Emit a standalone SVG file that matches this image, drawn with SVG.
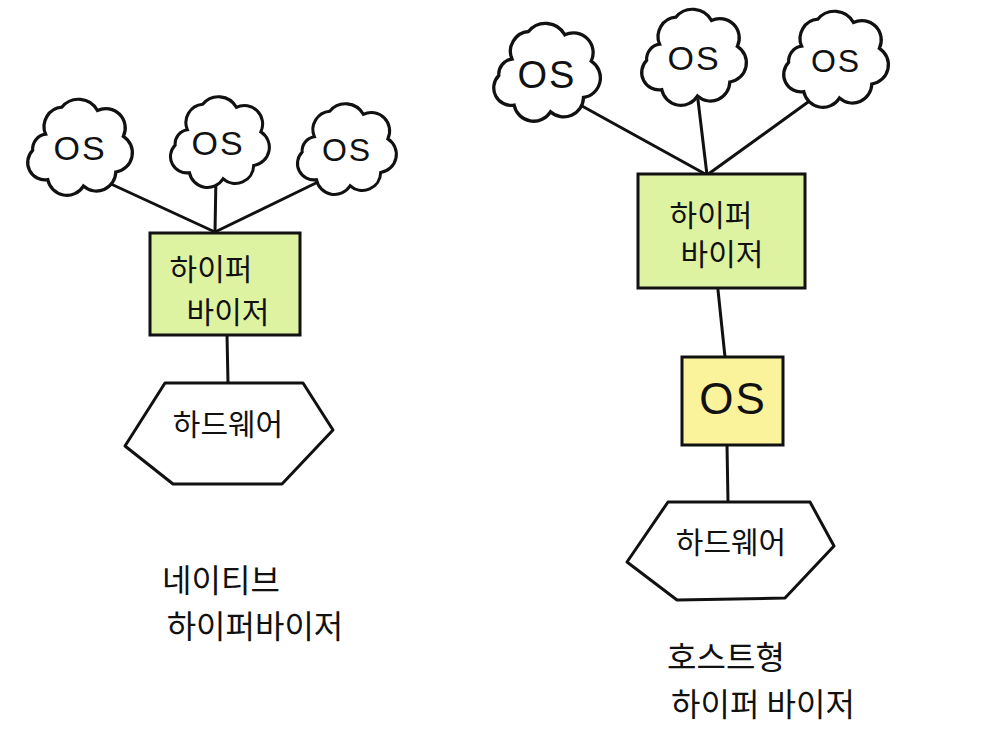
<svg xmlns="http://www.w3.org/2000/svg" width="984" height="752" viewBox="0 0 984 752">
<defs>
<path id="cloud" d="M -30,-10 A 18 18 0 0 1 -15,-35 A 20 20 0 0 1 18,-32 A 18 18 0 0 1 42,-8 A 18 18 0 0 1 35,25 A 18 18 0 0 1 5,38 A 18 18 0 0 1 -28,32 A 16 16 0 0 1 -42,5 A 14 14 0 0 1 -30,-10 Z"/>
</defs>
<style>
.ln{stroke:#111;stroke-width:3;fill:none;stroke-linecap:round;stroke-linejoin:round}
.cl{stroke:#111;stroke-width:3;fill:#fff;stroke-linecap:round}
.hv{fill:#ddf3a2;stroke:#111;stroke-width:3}
.os{fill:#fbf39c;stroke:#111;stroke-width:3}
.hw{fill:#fff;stroke:#111;stroke-width:3;stroke-linejoin:round}
.t{font-family:"Noto Sans CJK KR","Noto Sans",sans-serif;fill:#111;text-anchor:middle}
.c{font-family:"Liberation Sans","DejaVu Sans",sans-serif;fill:#111;text-anchor:middle;letter-spacing:2px}
</style>
<rect width="984" height="752" fill="#fff"/>
<g id="connectors">
<line class="ln" x1="98" y1="178" x2="215" y2="232"/>
<line class="ln" x1="216" y1="176" x2="215" y2="232"/>
<line class="ln" x1="318" y1="182" x2="215" y2="232"/>
<line class="ln" x1="227" y1="335" x2="228" y2="383"/>
<line class="ln" x1="582" y1="106" x2="707" y2="175"/>
<line class="ln" x1="698" y1="100" x2="707" y2="175"/>
<line class="ln" x1="815" y1="97" x2="707" y2="175"/>
<line class="ln" x1="718" y1="290" x2="725" y2="357"/>
<line class="ln" x1="727" y1="445" x2="728" y2="502"/>
</g>
<g id="left-os1"><use href="#cloud" class="cl" transform="translate(78,145) scale(1.08)"/><text class="c" x="80" y="160" font-size="34">OS</text></g>
<g id="left-os2"><use href="#cloud" class="cl" transform="translate(218,140) scale(1.02)"/><text class="c" x="218" y="155" font-size="34">OS</text></g>
<g id="left-os3"><use href="#cloud" class="cl" transform="translate(345,147) scale(1.02)"/><text class="c" x="347" y="161" font-size="32">OS</text></g>
<g id="left-hypervisor">
<rect class="hv" x="150" y="233" width="150" height="102"/>
<text class="t" x="211" y="280" font-size="30">하이퍼</text>
<text class="t" x="228" y="323" font-size="30">바이저</text>
</g>
<g id="left-hardware">
<polygon class="hw" points="165,383 303,383 333,430 282,484 173,484 125,446"/>
<text class="t" x="228" y="435" font-size="30">하드웨어</text>
</g>
<g id="left-label">
<text class="t" x="221" y="592" font-size="32">네이티브</text>
<text class="t" x="255" y="638" font-size="32">하이퍼바이저</text>
</g>
<g id="right-os1"><use href="#cloud" class="cl" transform="translate(545,70) scale(1.1)"/><text class="c" x="547" y="88" font-size="38">OS</text></g>
<g id="right-os2"><use href="#cloud" class="cl" transform="translate(692,55) scale(1.08)"/><text class="c" x="694" y="70" font-size="34">OS</text></g>
<g id="right-os3"><use href="#cloud" class="cl" transform="translate(834,57) scale(1.08)"/><text class="c" x="836" y="72" font-size="32">OS</text></g>
<g id="right-hypervisor">
<rect class="hv" x="638" y="174" width="167" height="114"/>
<text class="t" x="711" y="226" font-size="30">하이퍼</text>
<text class="t" x="722" y="265" font-size="30">바이저</text>
</g>
<g id="right-os-host">
<rect class="os" x="682" y="357" width="101" height="88"/>
<text class="c" x="733" y="414" font-size="44">OS</text>
</g>
<g id="right-hardware">
<polygon class="hw" points="668,502 810,502 834,546 785,598 677,600 627,562"/>
<text class="t" x="731" y="553" font-size="30">하드웨어</text>
</g>
<g id="right-label">
<text class="t" x="726" y="669" font-size="32">호스트형</text>
<text class="t" x="763" y="716" font-size="32">하이퍼 바이저</text>
</g>
</svg>
